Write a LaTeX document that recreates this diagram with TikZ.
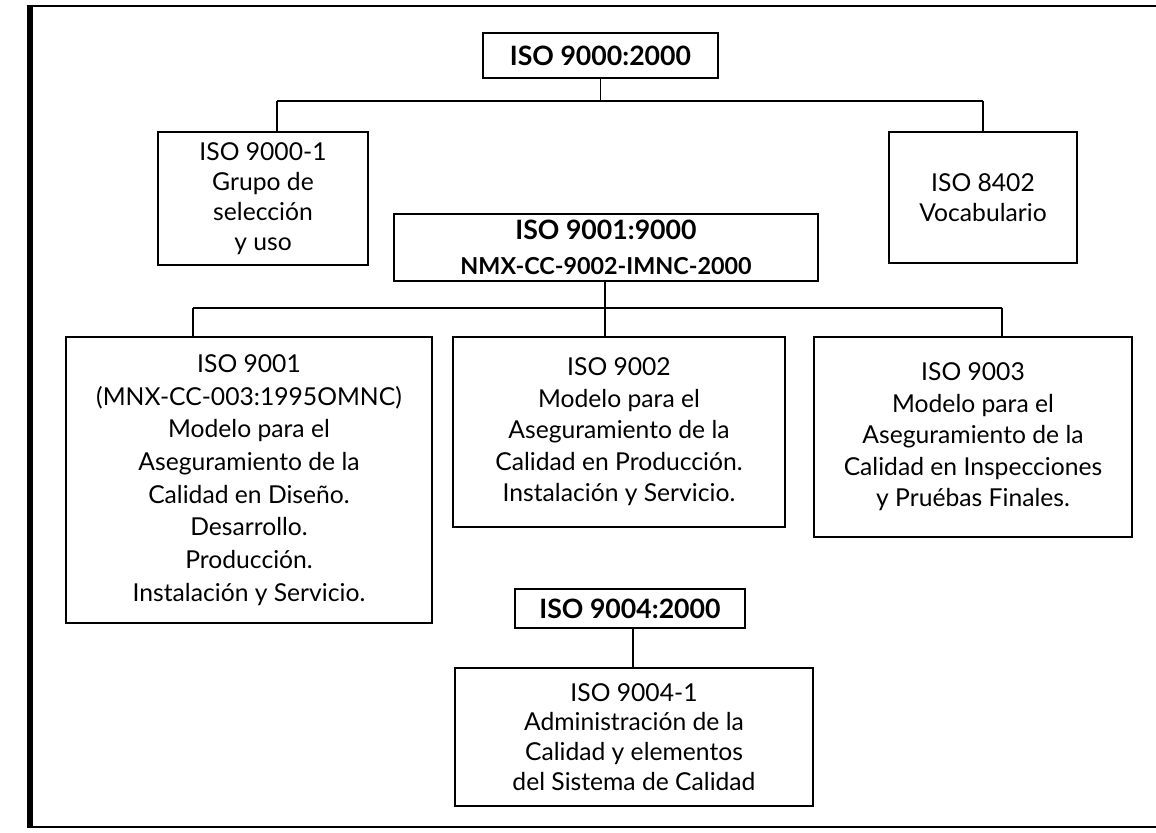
\documentclass[tikz,border=0pt]{standalone}
\usepackage{fontspec}
\setmainfont{Lato}
\begin{document}
\begin{tikzpicture}[x=0.75pt,y=-0.75pt,
  box/.style={draw=black, line width=1.4pt, inner sep=0pt, align=center, fill=white},
  wire/.style={draw=black, line width=1.4pt},
  frameline/.style={draw=black, line width=2.2pt},
  txt/.style={font=\fontsize{18.5}{24.5}\selectfont},
  bold/.style={font=\fontsize{20}{26}\selectfont\bfseries}]
\useasboundingbox (0,0) rectangle (1156,832);

% outer frame (open on the right)
\draw[frameline] (1160,6) -- (30,6);
\draw[frameline] (30,827) -- (1160,827);
\draw[draw=black, line width=4pt] (30,5) -- (30,828);

% first level
\node[box, bold, minimum width=176.25pt, minimum height=33.75pt] (top) at (600.5,55.5) {ISO 9000:2000};
\node[box, font=\fontsize{18.5}{22.5}\selectfont, minimum width=157.5pt, minimum height=99.75pt] (g1) at (263,198.5)
  {ISO 9000-1\\Grupo de\\selección\\y uso};
\node[box, font=\fontsize{18.5}{22.5}\selectfont, minimum width=141pt, minimum height=98.25pt] (voc) at (983,197.5)
  {ISO 8402\\Vocabulario};

% second level
\node[box, bold, minimum width=318pt, minimum height=50.25pt] (nmx) at (606,247.5)
  {ISO 9001:9000\\\fontsize{17.5}{26}\selectfont\bfseries NMX-CC-9002-IMNC-2000};
\node[box, txt, minimum width=274.5pt, minimum height=214.5pt] (b9001) at (249,480)
  {ISO 9001\\(MNX-CC-003:1995OMNC)\\Modelo para el\\Aseguramiento de la\\Calidad en Diseño.\\Desarrollo.\\Producción.\\Instalación y Servicio.};
\node[box, font=\fontsize{18.5}{23.6}\selectfont, minimum width=249pt, minimum height=142.5pt] (b9002) at (619,432)
  {ISO 9002\\Modelo para el\\Aseguramiento de la\\Calidad en Producción.\\Instalación y Servicio.};
\node[box, font=\fontsize{18.5}{23.6}\selectfont, minimum width=238.5pt, minimum height=150pt] (b9003) at (973,437)
  {ISO 9003\\Modelo para el\\Aseguramiento de la\\Calidad en Inspecciones\\y Pruébas Finales.};

% third level
\node[box, bold, minimum width=172.5pt, minimum height=29.25pt] (t9004) at (630,608.5) {ISO 9004:2000};
\node[box, font=\fontsize{18.5}{22.3}\selectfont, minimum width=268.5pt, minimum height=103.5pt] (b9004) at (634,737)
  {ISO 9004-1\\Administración de la\\Calidad y elementos\\del Sistema de Calidad};

% connector junctions
\coordinate (busAL) at (277,101);
\coordinate (busAR) at (983,101);
\coordinate (busBL) at (193,308);
\coordinate (busBM) at (605,308);
\coordinate (busBR) at (1002,308);
\coordinate (stemC) at (633,640);

\draw[wire] (top.south) -- (top.south |- busAL);
\draw[wire] (busAL) -- (busAR);
\draw[wire] (busAL) -- (busAL |- g1.north);
\draw[wire] (busAR) -- (busAR |- voc.north);

\draw[wire] (busBM |- nmx.south) -- (busBM |- b9002.north);
\draw[wire] (busBL) -- (busBR);
\draw[wire] (busBL) -- (busBL |- b9001.north);
\draw[wire] (busBR) -- (busBR |- b9003.north);

\draw[wire] (stemC |- t9004.south) -- (stemC |- b9004.north);
\end{tikzpicture}
\end{document}
